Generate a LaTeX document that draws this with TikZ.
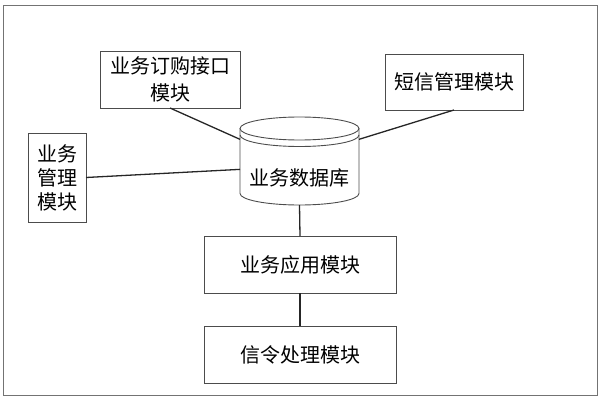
\documentclass[tikz,border=0pt]{standalone}
\usepackage{fontspec}
\newfontfamily\cjk{Noto Sans CJK SC}
\usetikzlibrary{calc}
\tikzset{
	module/.style={draw=black!70, line width=0.9pt, outer sep=0pt, inner sep=0pt,
			align=center, font=\cjk\fontsize{20}{24}\selectfont},
	link/.style={draw=black!85, line width=1.3pt}
}

\begin{document}
\begin{tikzpicture}[x=1pt, y=1pt]
        \useasboundingbox (0, 0) rectangle (600, 400);
        \draw[black!55, line width=0.8pt] (3, 5) rectangle (597, 395);
        \node[module, minimum width=140, minimum height=57, font=\cjk\fontsize{20}{27}\selectfont] (order) at (170, 320.5) {业务订购接口\\模块};
        \node[module, minimum width=58, minimum height=89] (mgmt) at (57, 222.5) {业务\\管理\\模块};
        \node[module, minimum width=138, minimum height=56] (sms) at (454, 318) {短信管理模块};
        \node[module, minimum width=192, minimum height=57] (app) at (300, 135.5) {业务应用模块};
        \node[module, minimum width=192, minimum height=57] (sig) at (300, 45.5) {信令处理模块};
        \node[module, draw=none, minimum width=119, minimum height=88] (db) at (299.5, 239) {};
        \draw[black!70, line width=0.9pt] (240, 271.5) -- (240, 206.5) arc[start angle=180, end angle=360, x radius=59.5, y radius=11.5] -- (359, 271.5);
        \draw[black!70, line width=0.9pt] (299.5, 271.5) ellipse[x radius=59.5, y radius=11.5];
        \draw[black!70, line width=0.9pt] (240, 265) arc[start angle=180, end angle=360, x radius=59.5, y radius=11.5];
        \node[module, draw=none] (dbtext) at ($(db.center)+(0, -17)$) {业务数据库};
        \draw[link] (order.south) -- (db.160);
        \draw[link] (mgmt.east) -- (db.188);
        \draw[link] (sms.south) -- (db.20);
        \draw[link] (db.south) -- (app.north);
        \draw[link] (app.south) -- (sig.north);
    \end{tikzpicture}
\end{document}
